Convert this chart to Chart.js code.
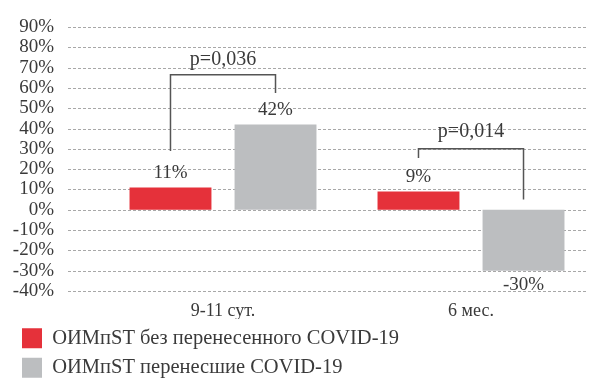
<!DOCTYPE html>
<html>
<head>
<meta charset="utf-8">
<script src="https://cdn.jsdelivr.net/npm/chart.js@4"></script>
<style>
  html, body { margin: 0; padding: 0; background: #fff; }
  #wrap { width: 600px; height: 388px; }
</style>
</head>
<body>
<div id="wrap"><canvas id="chart" width="600" height="388"></canvas></div>
<script>
// data
const categories = ['9-11 сут.', '6 мес.'];
const seriesNames = ['ОИМпST без перенесенного COVID-19', 'ОИМпST перенесшие COVID-19'];
const noCovid = [11, 9];
const postCovid = [42, -30];
const yTicks = [90, 80, 70, 60, 50, 40, 30, 20, 10, 0, -10, -20, -30, -40];
// brackets: [left bottom, top, right bottom, text level] in %
const pLabels = ['p=0,036', 'p=0,014'];
const bracketLevels = [[29, 66.5, 57.5, 74], [25.5, 30, 5, 38.5]];

const FONT = '"Liberation Serif", "DejaVu Serif", serif';
const TEXT = '#3a3a3a';

// dashed grid lines, drawn wider than the plot area
const gridPlugin = {
  id: 'grid',
  beforeDatasetsDraw(chart) {
    const ctx = chart.ctx, y = chart.scales.y;
    ctx.save();
    ctx.strokeStyle = '#a8a8a8';
    ctx.lineWidth = 1;
    ctx.setLineDash([3, 2]);
    yTicks.forEach(v => {
      const py = Math.round(y.getPixelForValue(v)) + 0.5;
      ctx.beginPath();
      ctx.moveTo(68, py);
      ctx.lineTo(587, py);
      ctx.stroke();
    });
    ctx.restore();
  }
};

// value labels and p-value brackets
const annotPlugin = {
  id: 'annot',
  afterDatasetsDraw(chart) {
    const ctx = chart.ctx, y = chart.scales.y;
    const m0 = chart.getDatasetMeta(0).data, m1 = chart.getDatasetMeta(1).data;
    ctx.save();
    ctx.font = '19px ' + FONT;
    ctx.fillStyle = TEXT;
    ctx.textAlign = 'center';
    ctx.textBaseline = 'middle';
    [[m0, noCovid], [m1, postCovid]].forEach(([bars, vals]) => {
      bars.forEach((b, i) => {
        const v = vals[i];
        const py = v >= 0 ? b.y - 14 : b.y + 14;
        ctx.fillText(v + '%', b.x, py);
      });
    });
    ctx.strokeStyle = '#555';
    ctx.lineWidth = 1.5;
    ctx.font = '20px ' + FONT;
    bracketLevels.forEach((lv, i) => {
      const x1 = m0[i].x, x2 = m1[i].x;
      ctx.beginPath();
      ctx.moveTo(x1, y.getPixelForValue(lv[0]));
      ctx.lineTo(x1, y.getPixelForValue(lv[1]));
      ctx.lineTo(x2, y.getPixelForValue(lv[1]));
      ctx.lineTo(x2, y.getPixelForValue(lv[2]));
      ctx.stroke();
      ctx.fillText(pLabels[i], (x1 + x2) / 2, y.getPixelForValue(lv[3]));
    });
    ctx.restore();
  }
};

new Chart(document.getElementById('chart'), {
  type: 'bar',
  data: {
    labels: categories,
    datasets: [
      { label: seriesNames[0], data: noCovid, backgroundColor: '#e5313a' },
      { label: seriesNames[1], data: postCovid, backgroundColor: '#bcbec0' }
    ]
  },
  options: {
    responsive: false,
    animation: false,
    categoryPercentage: 0.847,
    barPercentage: 0.78,
    layout: { padding: { top: 27, right: 5, left: 13, bottom: 0 } },
    scales: {
      x: {
        afterFit(scale) { scale.height = 28; },
        grid: { display: false },
        border: { display: false },
        ticks: { color: TEXT, font: { family: FONT, size: 18 }, padding: 1 }
      },
      y: {
        min: -40, max: 90,
        afterFit(scale) {
          scale.width = 86;
          scale.paddingTop = 0;
          scale.paddingBottom = 0;
        },
        grid: { display: false },
        border: { display: false },
        ticks: {
          stepSize: 10, padding: 37, color: TEXT, autoSkip: false,
          font: { family: FONT, size: 19 },
          callback: v => v + '%'
        }
      }
    },
    plugins: {
      tooltip: { enabled: false },
      legend: {
        position: 'bottom',
        align: 'start',
        labels: {
          boxWidth: 20, boxHeight: 20, padding: 9,
          color: TEXT,
          font: { family: FONT, size: 20.5 }
        }
      }
    }
  },
  plugins: [gridPlugin, annotPlugin]
});
</script>
</body>
</html>
